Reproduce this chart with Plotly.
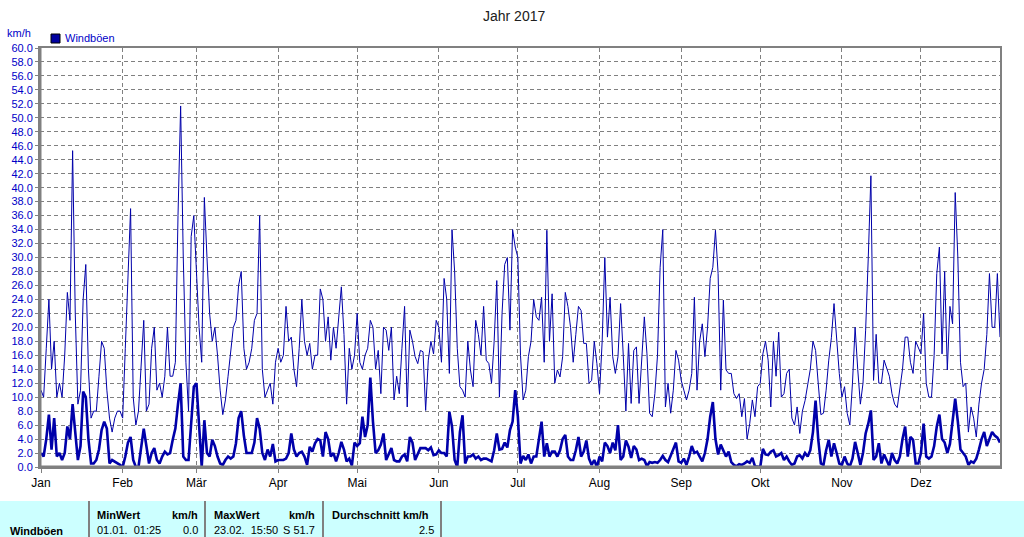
import pandas as pd
import plotly.graph_objects as go

# ---------------- data ----------------
title_text = "Jahr 2017"
unit_label = "km/h"
series_name = "Windböen"
month_labels = ["Jan", "Feb", "Mär", "Apr", "Mai", "Jun", "Jul", "Aug", "Sep", "Okt", "Nov", "Dez"]

# daily gust maxima (thin line), 1 Jan .. 31 Dec 2017
gust_max = [
    11, 10, 17, 24, 14, 18, 10, 12, 10, 16,
    25, 21, 45.3, 22, 9, 11, 24, 29, 14, 7,
    8, 8, 13, 18, 17, 11, 7, 5, 7, 8,
    8, 7, 17, 27, 37, 10, 6, 8, 15, 21,
    8, 9, 17, 20, 11, 12, 10, 13, 20, 13,
    13, 15, 36, 51.7, 30, 15, 8, 33, 36, 28,
    20, 15, 38.6, 30, 22, 18, 20, 16, 11, 7.5,
    9.6, 13, 17, 20, 21, 26, 28, 17, 14, 15,
    17, 21, 22, 36, 14, 10, 11, 12, 9, 15,
    17, 15, 16, 23, 18, 18.6, 14, 11.5, 17, 24,
    18, 16, 17.7, 14, 16, 16, 25.5, 24, 18, 21.5,
    15.3, 20, 17, 21, 25.8, 19, 9, 17, 14, 16,
    22, 15, 14, 16, 17, 21, 20, 14, 16.7, 10.5,
    20, 19.6, 16.7, 20, 9.6, 13, 10.5, 17, 23, 8.6,
    19.6, 18, 15.8, 14.8, 16.7, 16.5, 8.1, 15.3, 18, 16.2,
    21, 20, 15, 27, 24, 13.4, 34, 28, 17, 11.5,
    11, 10, 18, 13.9, 11.5, 21, 19, 16, 23, 15.3,
    14.8, 12, 18, 26.7, 10, 22, 29, 30, 19.6, 34,
    31.5, 30, 16, 9.6, 11, 15.8, 18, 24, 21.5, 21,
    24.3, 15, 33.9, 18, 24.8, 12, 13.9, 12.9, 15.8, 25,
    23, 20, 15, 19, 23, 22.4, 17.7, 17.7, 12, 12.4,
    18, 14.8, 10.5, 18, 30, 18.6, 24.3, 15.8, 13.4, 15.8,
    23.4, 16, 8, 17.7, 9.1, 16.7, 17.2, 9.1, 14.8, 21.5,
    16.2, 7.7, 7.2, 10.5, 16, 28.6, 34, 8.6, 12, 7.7,
    11, 16.7, 15.3, 12.4, 11, 9.6, 11, 13.4, 24.3, 11,
    18, 20.5, 15.8, 20, 27, 28.6, 33.9, 27.7, 11, 23.9,
    13.9, 13.4, 13.4, 10.5, 9.8, 10.5, 7.2, 9.8, 4, 6.2,
    9.6, 7.2, 11.5, 12, 16.2, 18, 15.3, 8.6, 18, 13,
    19.3, 10, 10.5, 13.4, 14, 7, 6, 8.6, 4.8, 8,
    9.5, 12, 14, 18, 16.7, 12, 7.5, 7.7, 11, 15.3,
    18.5, 23.4, 18, 13.4, 10, 11.5, 7.7, 6, 12, 20,
    14, 9, 12, 19.6, 30, 41.7, 12.4, 19, 12, 12,
    15.3, 14, 13, 10.5, 9, 8.5, 11, 14, 18.6, 18.6,
    15, 13.4, 18, 17, 16.2, 22, 12, 10, 10, 16,
    27.7, 31.5, 16.2, 28, 13.9, 23, 20.5, 39.3, 30, 15,
    11.5, 12, 5, 8.6, 7, 4.3, 9, 12, 14, 19,
    27.7, 20, 20, 27.7, 18.6,
]

# daily mean gusts (thick line)
gust_mean = [
    2, 1.5, 4, 7.5, 2.5, 7, 1.5, 2, 1, 2,
    5.8, 4, 9, 5, 1, 3, 10.8, 10, 4, 0.5,
    0.5, 1, 2.5, 5.3, 6.5, 5.5, 0.5, 1, 0.8, 0.5,
    0.3, 0, 1.5, 3.5, 4.3, 1, 0, 0, 3, 5.5,
    3, 0.5, 2, 2.7, 1, 0.5, 1.5, 2.2, 1.8, 2,
    3.9, 5.5, 9, 12, 1.5, 1, 1, 6, 11.5, 12,
    5, 0, 6.7, 2, 1.5, 3.9, 3, 1.5, 0.5, 0.3,
    1, 1.5, 1.2, 1.5, 3.4, 7, 8, 4.5, 2, 2,
    2, 3.5, 7, 5.5, 2, 1, 2.5, 1.5, 3.3, 0.8,
    1, 1, 1, 1.2, 2, 4.8, 2.5, 1.5, 2, 2.2,
    1.5, 0.3, 2.9, 2.2, 3.4, 4, 3.8, 1.5, 5, 4,
    1.5, 2, 0.8, 2, 3.6, 2.5, 0.8, 1.2, 0.2, 3.5,
    3, 3.4, 7.2, 4.3, 6, 12.8, 6.5, 2, 2.4, 3.2,
    4.8, 1, 2, 2.7, 1, 0.8, 0.8, 1.5, 1.8, 0.8,
    4.3, 3.5, 1, 2, 2.7, 2.7, 2.7, 2.4, 2.8, 1.7,
    1.8, 2.4, 2, 2, 1.5, 7.9, 5.8, 1, 0, 5,
    7.4, 0.5, 1.5, 1.5, 1.8, 1.2, 1.5, 1, 1.2, 1.2,
    1, 0.8, 2.4, 4.8, 2.5, 2.6, 3.5, 2.8, 5.3, 6.5,
    11, 7.2, 0.5, 1.6, 1, 1.8, 0.5, 1.5, 1.5, 4,
    6.5, 1.5, 3.4, 1.5, 2.2, 2.2, 1.5, 2.4, 4, 4.6,
    1.5, 1, 1, 2.4, 4.3, 1.5, 2.2, 3.8, 1.2, 0.3,
    1, 0, 1.5, 0.8, 3.5, 3, 2, 3.5, 2.4, 6,
    1, 1.5, 3.8, 2.9, 1.3, 3, 2.5, 1, 1.2, 1,
    0.1, 0.7, 0.6, 0.7, 0.6, 1, 1.6, 1, 0.7, 1.6,
    2.5, 3.5, 0.8, 0.6, 1.2, 0.3, 1.5, 3, 2, 2.2,
    1.5, 0.8, 2, 4, 7.2, 9.3, 4, 1.8, 3.2, 2.4,
    1.5, 2.2, 0.7, 0.3, 0.1, 0.4, 0.3, 0.5, 0.8, 0.6,
    1.3, 0.1, 0, 0, 2.6, 1.8, 1.7, 2.2, 2.4, 1.5,
    1.7, 2, 1, 1.5, 0.8, 0.3, 0.5, 1.5, 1.7, 1.2,
    2, 1.5, 2.4, 5, 9.5, 4, 0.5, 0.3, 2.4, 3.9,
    1.5, 3.4, 2, 0.5, 0.3, 1.5, 0.5, 0.1, 1.2, 3.6,
    2, 0.3, 2, 4.8, 6.2, 8.1, 1, 1.5, 3.4, 0.5,
    1.8, 1, 0.1, 2, 1, 0.5, 1.5, 4, 5.8, 1.5,
    4.3, 3.9, 0.5, 0.5, 2, 6.2, 1.5, 1.2, 1.5, 3,
    5.8, 7.5, 4, 3.5, 2, 3.3, 6.5, 9.8, 6.5, 2.5,
    2, 1.5, 0.3, 0.8, 0.6, 1.2, 2.5, 4, 5, 3,
    4, 5, 4.5, 4.2, 3.5,
]

# summary table
stat_min_time = "01.01.  01:25"
stat_min_value = 0.0
stat_max_time = "23.02.  15:50"
stat_max_dir = "S"
stat_max_value = 51.7
stat_mean_value = 2.5

# ---------------- layout helpers ----------------
W, H = 1024, 537
L, R, T, B = 40, 1000, 48, 467


def px(x):
    return (x - L) / (R - L)


def py(y):
    return (B - y) / (B - T)


FONT = "Liberation Sans, Arial, sans-serif"
BLUE_TXT = "#0000C8"
LINE_COL = "#0000AA"
GRID = "#808080"

start = pd.Timestamp("2017-01-01")
dates_max = pd.date_range(start, periods=len(gust_max), freq="D")
dates_mean = pd.date_range(start, periods=len(gust_mean), freq="D")
month_ticks = pd.date_range(start, periods=12, freq="MS")
x_range = [start - pd.Timedelta(hours=9.1), start + pd.Timedelta(days=364)]

fig = go.Figure()
fig.add_trace(go.Scatter(x=dates_max, y=gust_max, mode="lines",
                         line=dict(color=LINE_COL, width=1), hoverinfo="skip", showlegend=False))
fig.add_trace(go.Scatter(x=dates_mean, y=gust_mean, mode="lines",
                         line=dict(color=LINE_COL, width=2.6), hoverinfo="skip", showlegend=False))

fig.update_layout(
    width=W, height=H,
    margin=dict(l=L, r=W - R, t=T, b=H - B),
    paper_bgcolor="white", plot_bgcolor="white",
    showlegend=False,
    font=dict(family=FONT, size=11, color="black"),
    xaxis=dict(
        type="date", range=x_range,
        tickvals=month_ticks, ticktext=month_labels,
        showgrid=True, gridcolor=GRID, gridwidth=1, griddash="4px,3px",
        ticks="outside", ticklen=4, tickcolor=GRID, tickwidth=1,
        tickfont=dict(family=FONT, size=12, color="black"),
        showline=True, linecolor=GRID, linewidth=2, mirror=True,
        zeroline=False, fixedrange=True,
    ),
    yaxis=dict(
        range=[0, 60], tickmode="linear", tick0=0, dtick=2, tickformat=".1f",
        showgrid=True, gridcolor=GRID, gridwidth=1, griddash="4px,3px",
        ticks="outside", ticklen=3, tickcolor=GRID, tickwidth=1,
        tickfont=dict(family=FONT, size=11, color=BLUE_TXT),
        showline=True, linecolor=GRID, linewidth=2, mirror=True,
        zeroline=False, fixedrange=True,
    ),
)

shapes = [
    # thicker left / bottom frame
    dict(type="line", xref="paper", yref="paper", x0=px(40), x1=px(40), y0=py(467), y1=py(47),
         line=dict(color=GRID, width=3)),
    dict(type="line", xref="paper", yref="paper", x0=px(39), x1=px(1001), y0=py(467), y1=py(467),
         line=dict(color=GRID, width=3)),
    # legend swatch
    dict(type="rect", xref="paper", yref="paper", x0=px(51), x1=px(60), y0=py(43), y1=py(34),
         fillcolor="#0000A0", line=dict(color="black", width=1)),
    # summary table background
    dict(type="rect", xref="paper", yref="paper", x0=px(0), x1=px(1024), y0=py(537), y1=py(501),
         fillcolor="#CCFFFF", line=dict(width=0), layer="below"),
]
for sx in [89, 205, 323, 441]:
    shapes.append(dict(type="line", xref="paper", yref="paper", x0=px(sx), x1=px(sx),
                       y0=py(537), y1=py(501), line=dict(color=GRID, width=2)))
fig.update_layout(shapes=shapes)


def ann(text, x, y, anchor="left", size=11, color="black", bold=False):
    if bold:
        text = "<b>" + text + "</b>"
    fig.add_annotation(text=text, xref="paper", yref="paper", x=px(x), y=py(y),
                       xanchor=anchor, yanchor="middle", showarrow=False,
                       font=dict(family=FONT, size=size, color=color))


ann(title_text, 514, 16, anchor="center", size=14, color="#202020")
ann(unit_label, 5, 33, color=BLUE_TXT)
ann(series_name, 63, 38, color=BLUE_TXT)

# table text
ann(series_name, 8, 531, bold=True)
ann("MinWert", 95, 515, bold=True)
ann(unit_label, 200, 515, anchor="right", bold=True)
ann(stat_min_time, 95, 530)
ann(f"{stat_min_value:.1f}", 200, 530, anchor="right")
ann("MaxWert", 212, 515, bold=True)
ann(unit_label, 317, 515, anchor="right", bold=True)
ann(stat_max_time, 212, 530)
ann(f"{stat_max_dir} {stat_max_value:.1f}", 317, 530, anchor="right")
ann("Durchschnitt " + unit_label, 330, 515, bold=True)
ann(f"{stat_mean_value:.1f}", 436, 530, anchor="right")

fig.write_html("out.html",
               config={"displayModeBar": False, "staticPlot": True},
               post_script="document.body.style.margin='0';document.body.style.overflow='hidden';")
